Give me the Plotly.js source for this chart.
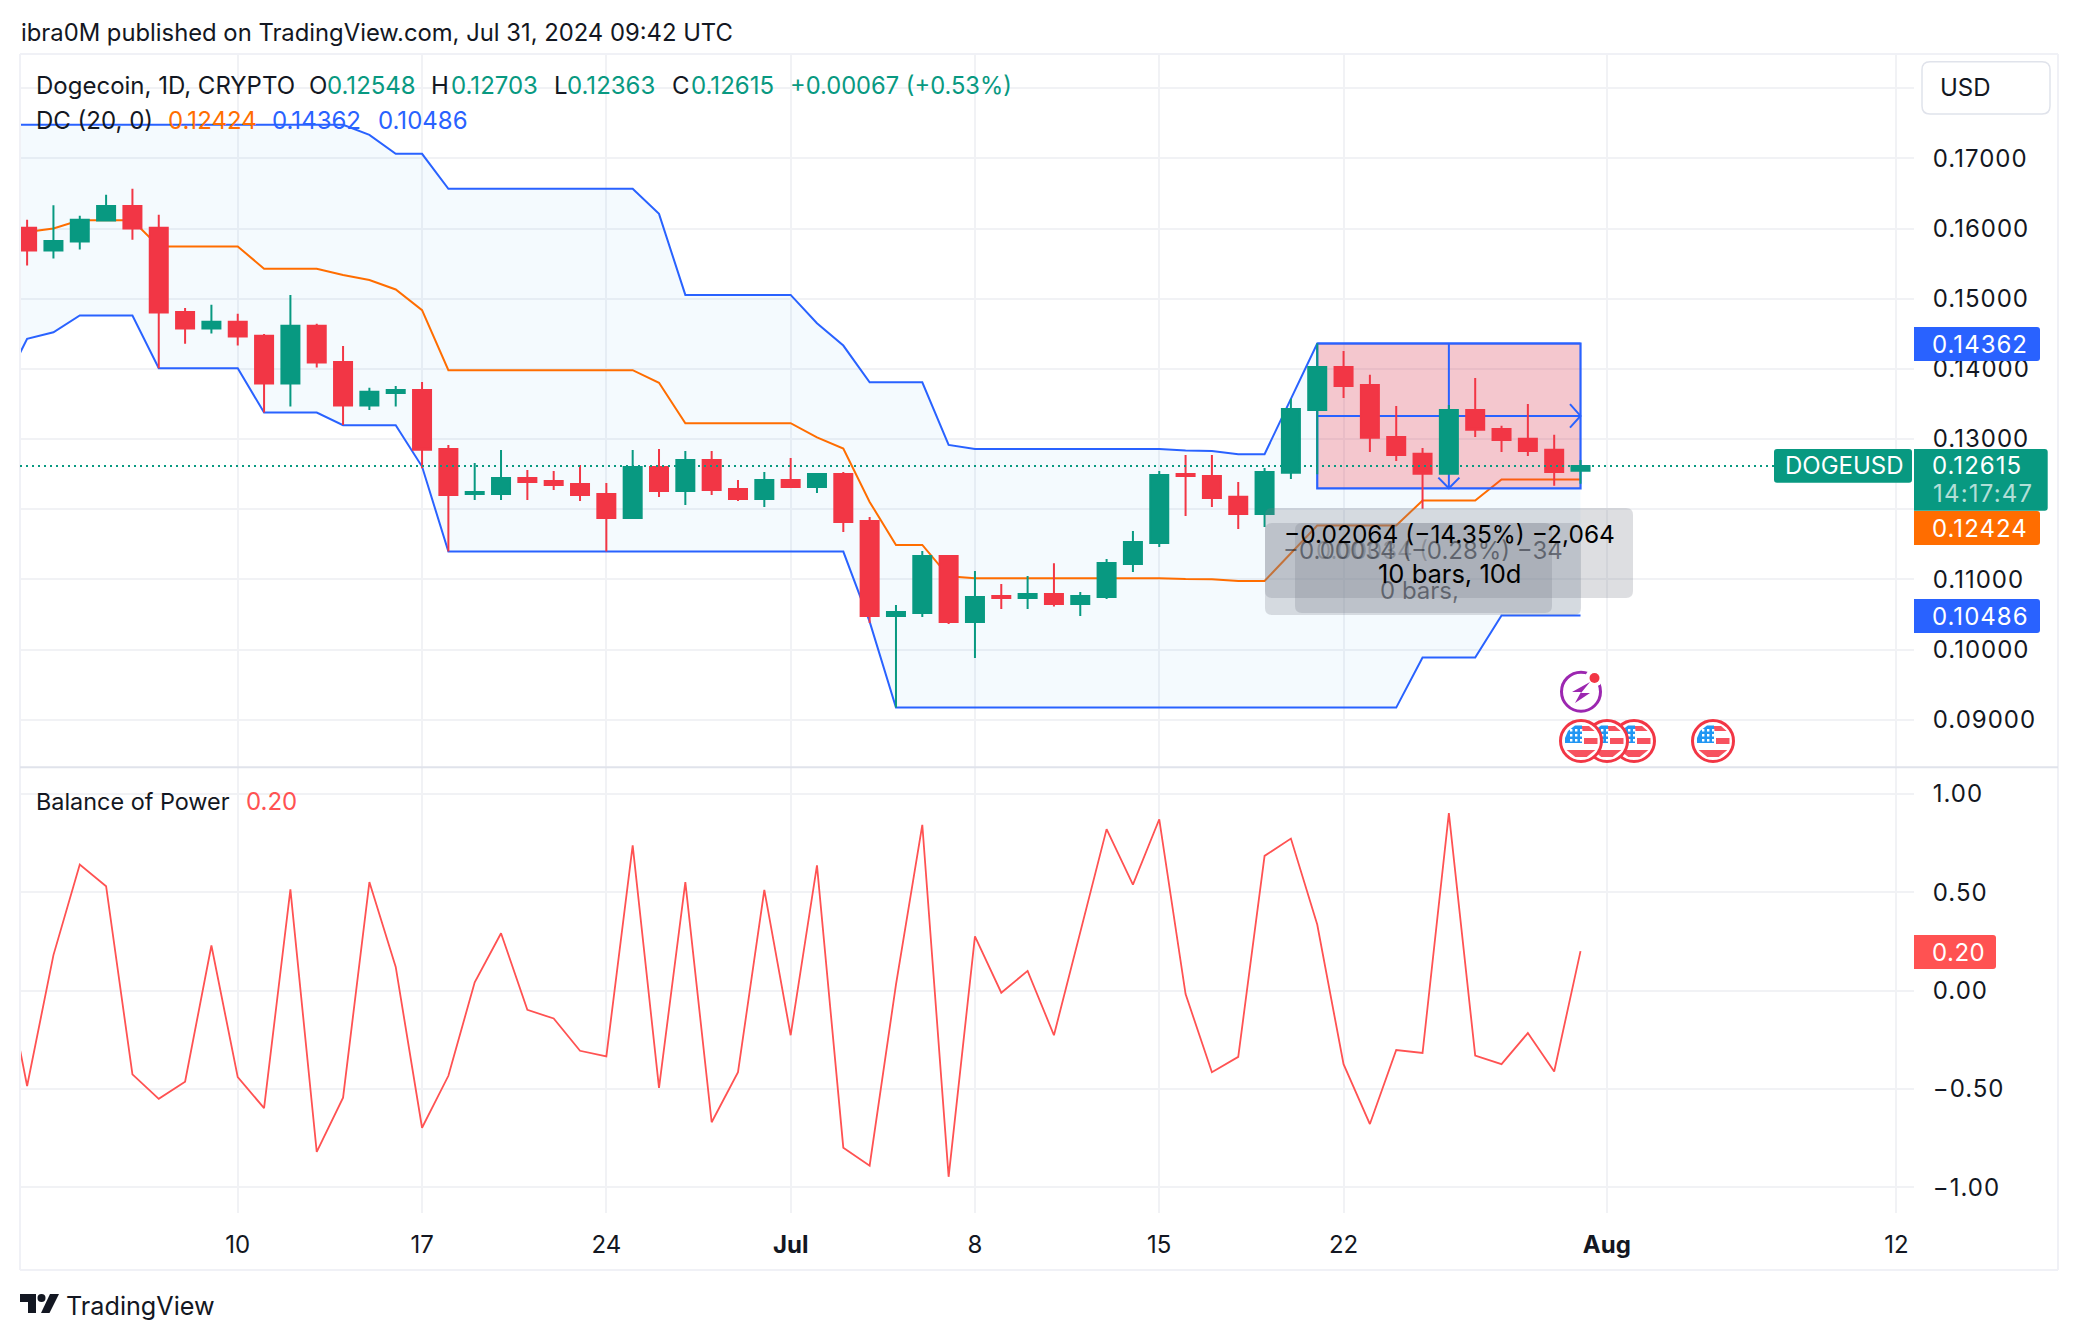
<!DOCTYPE html>
<html><head><meta charset="utf-8">
<script src="https://cdn.plot.ly/plotly-3.0.1.min.js"></script>
<style>html,body{margin:0;padding:0;background:#fff} svg text{font-variant-numeric:tabular-nums} .ytick text,.y2tick text{letter-spacing:1px}</style></head>
<body><div id="chart" style="width:2078px;height:1340px"></div>
<script>
const lineDates=['2024-06-01','2024-06-02','2024-06-03','2024-06-04','2024-06-05','2024-06-06','2024-06-07','2024-06-08','2024-06-09','2024-06-10','2024-06-11','2024-06-12','2024-06-13','2024-06-14','2024-06-15','2024-06-16','2024-06-17','2024-06-18','2024-06-19','2024-06-20','2024-06-21','2024-06-22','2024-06-23','2024-06-24','2024-06-25','2024-06-26','2024-06-27','2024-06-28','2024-06-29','2024-06-30','2024-07-01','2024-07-02','2024-07-03','2024-07-04','2024-07-05','2024-07-06','2024-07-07','2024-07-08','2024-07-09','2024-07-10','2024-07-11','2024-07-12','2024-07-13','2024-07-14','2024-07-15','2024-07-16','2024-07-17','2024-07-18','2024-07-19','2024-07-20','2024-07-21','2024-07-22','2024-07-23','2024-07-24','2024-07-25','2024-07-26','2024-07-27','2024-07-28','2024-07-29','2024-07-30','2024-07-31'];
const candleOpen=[.16011,.15687,.15816,.16115,.16324,.16011,.14813,.14576,.14671,.14471,.13791,.14614,.141,.13478,.13658,.13701,.12859,.12218,.12218,.12446,.12403,.1236,.12218,.11876,.12603,.12261,.12703,.12289,.12147,.12418,.12318,.12503,.11833,.10479,.10521,.11334,.10393,.10764,.10735,.10793,.1065,.1075,.1122,.1152,.12503,.12475,.12176,.11933,.12518,.13416,.14029,.13772,.13031,.12789,.12504,.13416,.13145,.13003,.12846,.12548];
const candleHigh=[.16125,.16334,.16182,.16481,.16567,.16196,.1487,.14913,.14785,.14499,.15055,.14642,.14328,.1373,.13758,.13815,.12916,.1266,.12845,.1256,.12546,.12631,.12375,.12845,.12859,.12831,.12831,.12418,.12532,.12731,.12517,.12532,.1189,.10636,.11405,.11348,.1112,.10935,.11049,.1123,.10821,.11292,.11691,.12546,.12774,.12774,.12389,.12589,.13573,.14362,.14257,.13915,.13473,.12874,.13487,.13872,.13188,.13501,.1306,.12703];
const candleLow=[.15474,.15573,.15702,.1611,.1584,.1401,.14357,.14504,.14333,.13378,.13464,.14019,.13202,.13416,.13464,.12584,.11396,.12132,.12132,.12132,.12275,.12118,.11396,.11876,.12175,.12061,.12204,.12118,.12033,.12303,.12232,.11676,.10379,.09172,.10464,.10365,.0988,.10578,.10578,.10612,.10479,.10721,.11106,.11463,.11905,.12033,.11719,.11748,.12432,.125,.13587,.12817,.12689,.12005,.12504,.13031,.12817,.1276,.12333,.12363];
const candleClose=[.15687,.15825,.16125,.16324,.16001,.14804,.14576,.14671,.14461,.13791,.14614,.14091,.13478,.13673,.13701,.12846,.12204,.12246,.12446,.12389,.12346,.12204,.11876,.12603,.12261,.12703,.12275,.12147,.12418,.12318,.12503,.11819,.10479,.10536,.11334,.10393,.1075,.10735,.10792,.1065,.10764,.11235,.11534,.12489,.12475,.12161,.11933,.12532,.1343,.14029,.13758,.13017,.12774,.12504,.13416,.13131,.12988,.12831,.12532,.12615];
const dcUpper=[.17479,.17479,.17479,.17479,.17479,.17479,.17479,.17479,.17479,.17479,.17479,.17479,.17479,.17479,.17336,.17066,.17066,.16567,.16567,.16567,.16567,.16567,.16567,.16567,.16567,.1621,.15055,.15055,.15055,.15055,.15055,.14652,.14333,.1381,.1381,.1381,.12916,.1286,.1286,.1286,.1286,.1286,.1286,.1286,.1286,.12836,.1283,.12784,.12784,.13573,.14362,.14362,.14362,.14362,.14362,.14362,.14362,.14362,.14362,.14362,.14362];
const dcLower=[.13686,.14428,.14523,.14761,.14761,.14761,.1401,.1401,.1401,.1401,.13378,.13378,.13378,.13197,.13197,.13197,.12608,.11396,.11396,.11396,.11396,.11396,.11396,.11396,.11396,.11396,.11396,.11396,.11396,.11396,.11396,.11396,.11396,.10398,.09172,.09172,.09172,.09172,.09172,.09172,.09172,.09172,.09172,.09172,.09172,.09172,.09172,.09172,.09172,.09172,.09172,.09172,.09172,.09172,.09885,.09885,.09885,.10486,.10486,.10486,.10486];
const dcBasis=[.15583,.15953,.16001,.1612,.1612,.1612,.15745,.15745,.15745,.15745,.15429,.15429,.15429,.15338,.15267,.15132,.14837,.13982,.13982,.13982,.13982,.13982,.13982,.13982,.13982,.13803,.13226,.13226,.13226,.13226,.13226,.13024,.12865,.12104,.11491,.11491,.11044,.11016,.11016,.11016,.11016,.11016,.11016,.11016,.11016,.11004,.11001,.10978,.10978,.11373,.11767,.11767,.11767,.11767,.12124,.12124,.12124,.12424,.12424,.12424,.12424];
const balanceOfPower=[.2,-.485,.18,.64,.53,-.426,-.55,-.463,.229,-.44,-.597,.514,-.82,-.544,.551,.12,-.697,-.433,.042,.291,-.098,-.142,-.306,-.334,.737,-.494,.551,-.669,-.415,.511,-.227,.636,-.798,-.89,.03,.842,-.946,.275,-.011,.1,-.227,.3,.82,.538,.87,-.018,-.415,-.337,.684,.772,.335,-.374,-.678,-.302,-.317,.901,-.33,-.374,-.216,-.411,.2];
const measureLeft='2024-07-21',measureMid='2024-07-26',measureRight='2024-07-31';
const measureTop=.14362,measureBottom=.12298,measureCentre=.1333;
const lastPrice=.12615;
const xTickVals=['2024-06-10','2024-06-17','2024-06-24','2024-07-01','2024-07-08','2024-07-15','2024-07-22','2024-08-01','2024-08-12'];
const xTickText=['10','17','24','<b>Jul</b>','8','15','22','<b>Aug</b>','12'];
const priceTickVals=[.09,.10,.11,.12,.13,.14,.15,.16,.17,.18];
const priceTickText=['0.09000','0.10000','0.11000','','0.13000','0.14000','0.15000','0.16000','0.17000',''];
const bopTickVals=[-1,-.5,0,.5,1];
const bopTickText=['−1.00','−0.50','0.00','0.50','1.00'];

const W=2078,H=1340,UP='#089981',DOWN='#F23645',BLUE='#2962FF',ORANGE='#FF6D00',BOPC='#FF5252',INK='#131722',GRID='#F1F2F5',FRAME='#F0F1F6';
const FONT='Inter, "Noto Sans", sans-serif';
const px=v=>v/W, py=v=>1-v/H;
const dom=[px(20),px(1914)];
const xRange=['2024-06-01 17:31','2024-08-12 15:59'];
const yRange=[.08321,.18489], bopRange=[-1.13,1.134];

const lineX=lineDates, cX=lineDates.slice(1);
const traces=[
 {type:'scatter',mode:'lines',x:lineX,y:dcUpper,line:{color:BLUE,width:2},xaxis:'x',yaxis:'y'},
 {type:'scatter',mode:'lines',x:lineX,y:dcLower,line:{color:BLUE,width:2},fill:'tonexty',fillcolor:'rgba(33,150,243,0.05)',xaxis:'x',yaxis:'y'},
 {type:'scatter',mode:'lines',x:lineX,y:dcBasis,line:{color:ORANGE,width:2},xaxis:'x',yaxis:'y'},
 {type:'scatter',mode:'lines',x:[measureLeft,measureRight,measureRight,measureLeft,measureLeft],y:[measureTop,measureTop,measureBottom,measureBottom,measureTop],fill:'toself',fillcolor:'rgba(242,54,69,0.26)',line:{color:BLUE,width:2.2},xaxis:'x',yaxis:'y'},
 {type:'scatter',mode:'lines',x:[measureLeft,measureRight],y:[measureCentre,measureCentre],line:{color:BLUE,width:2},xaxis:'x',yaxis:'y'},
 {type:'scatter',mode:'lines',x:['2024-07-30 14:24',measureRight,'2024-07-30 14:24'],y:[.13497,measureCentre,.13163],line:{color:BLUE,width:2},xaxis:'x',yaxis:'y'},
 {type:'scatter',mode:'lines',x:[measureMid,measureMid],y:[measureTop,measureBottom],line:{color:BLUE,width:2},xaxis:'x',yaxis:'y'},
 {type:'scatter',mode:'lines',x:['2024-07-25 14:24',measureMid,'2024-07-26 09:36'],y:[.1245,measureBottom,.1245],line:{color:BLUE,width:2},xaxis:'x',yaxis:'y'},
 {type:'candlestick',x:cX,open:candleOpen,high:candleHigh,low:candleLow,close:candleClose,whiskerwidth:0,
  increasing:{line:{color:UP,width:2},fillcolor:UP},decreasing:{line:{color:DOWN,width:2},fillcolor:DOWN},xaxis:'x3',yaxis:'y3'},
 {type:'scatter',mode:'lines',x:lineX,y:balanceOfPower,line:{color:BOPC,width:1.8},xaxis:'x2',yaxis:'y2'}
];

const anns=[];
function T(text,x,y,size,color,anchor){anns.push({text,x:px(x),y:py(y),xref:'paper',yref:'paper',xanchor:anchor||'left',yanchor:'middle',showarrow:false,borderpad:0,font:{family:FONT,size,color}});}
const wide=(s,v)=>'<span style="letter-spacing:'+v+'px">'+s+'</span>';
const shapes=[];
function P(d,fill,line,lw){shapes.push({type:'path',xref:'paper',yref:'paper',path:d,fillcolor:fill,line:{color:line||'rgba(0,0,0,0)',width:lw||0},layer:'above'});}
function poly(pts){return 'M'+pts.map(p=>px(p[0])+','+py(p[1])).join('L')+'Z';}
function round(x0,y0,x1,y1,r,rl){
 const Q=(a,b,c,d)=>'Q'+px(a)+','+py(b)+' '+px(c)+','+py(d);
 const L=(a,b)=>'L'+px(a)+','+py(b);
 return 'M'+px(x0+rl)+','+py(y0)+L(x1-r,y0)+Q(x1,y0,x1,y0+r)+L(x1,y1-r)+Q(x1,y1,x1-r,y1)+L(x0+rl,y1)+Q(x0,y1,x0,y1-rl)+L(x0,y0+rl)+Q(x0,y0,x0+rl,y0)+'Z';
}
function circ(cx,cy,r,fill,line,lw){shapes.push({type:'circle',xref:'paper',yref:'paper',x0:px(cx-r),x1:px(cx+r),y0:py(cy+r),y1:py(cy-r),fillcolor:fill,line:{color:line||'rgba(0,0,0,0)',width:lw||0},layer:'above'});}
function seg(x0,y0,x1,y1,c,w){shapes.push({type:'line',xref:'paper',yref:'paper',x0:px(x0),x1:px(x1),y0:py(y0),y1:py(y1),line:{color:c,width:w},layer:'above'});}

seg(20,54,2058,54,FRAME,2);seg(20,54,20,1270,FRAME,2);seg(2058,54,2058,1270,FRAME,2);seg(20,1270,2058,1270,FRAME,2);
seg(20,767.3,2058,767.3,'#E0E3EB',2);

shapes.push({type:'line',xref:'paper',yref:'y',x0:px(20),x1:px(1774),y0:lastPrice,y1:lastPrice,line:{color:UP,width:2,dash:'2px,4px'},layer:'above'});

const TIP='rgba(120,123,134,0.25)';
P(round(1295,523,1552,613,7,7),TIP);
P(round(1265,523,1581,615,7,7),TIP);
P(round(1265,508,1633,598,7,7),TIP);

P(round(1914,327,2040,361,3,0),BLUE);
P(round(1774,449,1912,482.7,3,3),UP);
P(round(1914,449,2047.7,510.7,3,0),UP);
P(round(1914,511,2040,545,3,0),ORANGE);
P(round(1914,599,2040,633,3,0),BLUE);
P(round(1914,935,1996,969,3,0),BOPC);
P(round(1922,61.7,2050,114,8,8),'#FFFFFF','#E0E3EB',1.5);

function flag(cx,cy){
 circ(cx,cy,20.5,'#FFFFFF',DOWN,3);
 const R='#F7525F';
 P(poly([[cx+1,cy-15],[cx+8,cy-15],[cx+13.7,cy-10],[cx+1,cy-10]]),R);
 P(poly([[cx+3,cy-3],[cx+16.5,cy-3],[cx+16.5,cy+3],[cx+3,cy+3]]),R);
 P(poly([[cx-14.4,cy+9],[cx+14.4,cy+9],[cx+5.7,cy+16],[cx-5.7,cy+16]]),R);
 P(poly([[cx+1,cy-15.5],[cx-6,cy-15.5],[cx-13,cy-10],[cx-16,cy-3],[cx-16,cy+2],[cx+1,cy+2]]),'#2196F3');
 let d='';
 [-11,-6,-1].forEach(dy=>{[-10,-5,0].forEach(dx=>{const a=cx+dx-1,b=cy+dy-1;d+=poly([[a,b],[a+2.4,b],[a+2.4,b+2.4],[a,b+2.4]]);});});
 P(d,'#FFFFFF');
}
[1713,1634,1607,1581].forEach(c=>flag(c,741));
circ(1581,691.7,19.5,'rgba(0,0,0,0)','#9C27B0',3);
circ(1594,678,9,'#FFFFFF');
circ(1594.5,678,5,DOWN);
P(poly([[1590,682],[1572,692],[1581,692],[1575,703],[1590,693],[1581,693]]),'#9C27B0');

P(poly([[20,1294],[36,1294],[36,1313],[28,1313],[28,1302],[20,1302]]),INK);
circ(41.5,1298,4,INK);
P(poly([[50,1294],[59,1294],[49.5,1313],[41,1313]]),INK);

const LS=24;
T('ibra0M published on TradingView.com, Jul 31, 2024 09:42 UTC',19.5,32,23.8,INK);
T('Dogecoin, 1D, CRYPTO',34.5,86,LS,INK);
T('O',308,86,LS,INK);T('0.12548',326,86,LS,UP);
T('H',430,86,LS,INK);T('0.12703',450,86,LS,UP);
T('L',553,86,LS,INK);T('0.12363',566,86,LS,UP);
T('C',671,86,LS,INK);T('0.12615',690,86,LS,UP);
T('+0.00067 (+0.53%)',789,86,23.7,UP);
T('DC (20, 0)',34.5,120,LS,INK);
T('0.12424',167,120,LS,ORANGE);T('0.14362',271,120,LS,BLUE);T('0.10486',377,120,LS,BLUE);
T('Balance of Power',34.5,801,23.4,INK);T('0.20',245,801,LS,BOPC);
T('USD',1939,87.7,LS,INK);
T(wide('0.14362',1),1931,344,LS,'#FFFFFF');
T('DOGEUSD',1784,465.7,LS,'#FFFFFF');
T(wide('0.12615',1),1931,465.7,LS,'#FFFFFF');
T(wide('14:17:47',1.2),1932,493,LS,'rgba(255,255,255,0.7)');
T(wide('0.12424',1),1931,528,LS,'#FFFFFF');
T(wide('0.10486',1),1931,616,LS,'#FFFFFF');
T(wide('0.20',0.5),1931,952,LS,'#FFFFFF');
T('0.00034 (',1315,550,LS,'rgba(19,23,34,0.22)');
T('−0.00034 (−0.28%) −34',1422.6,550.7,LS,'rgba(19,23,34,0.5)','center');
T('0 bars,',1419,590.7,LS,'rgba(19,23,34,0.5)','center');
T('−0.02064 (−14.35%) −2,064',1449,534,24.5,'#000000','center');
T('10 bars, 10d',1449,574,25.5,'#000000','center');
T('TradingView',65,1306,25.2,INK);

const gridX={showgrid:true,gridcolor:GRID,gridwidth:2,zeroline:false,showline:false,type:'date',range:xRange,domain:dom,tickmode:'array',tickvals:xTickVals,ticktext:xTickText};
const gridY={showgrid:true,gridcolor:GRID,gridwidth:2,zeroline:false,showline:false,side:'right',tickmode:'array',ticks:'outside',ticklen:13,tickcolor:'rgba(0,0,0,0)',tickfont:{family:FONT,size:LS,color:INK}};
const layout={
 width:W,height:H,margin:{l:0,r:0,t:0,b:0},paper_bgcolor:'#FFFFFF',plot_bgcolor:'#FFFFFF',showlegend:false,
 font:{family:FONT,color:INK},boxgap:0.1,boxgroupgap:0.24,
 xaxis:Object.assign({},gridX,{anchor:'y',showticklabels:false,ticks:''}),
 yaxis:Object.assign({},gridY,{anchor:'x',range:yRange,domain:[py(767.3),py(54)],tickvals:priceTickVals,ticktext:priceTickText}),
 xaxis2:Object.assign({},gridX,{anchor:'y2',ticks:'outside',ticklen:10,tickcolor:'rgba(0,0,0,0)',tickfont:{family:FONT,size:LS,color:INK}}),
 yaxis2:Object.assign({},gridY,{anchor:'x2',range:bopRange,domain:[py(1213),py(767.3)],tickvals:bopTickVals,ticktext:bopTickText}),
 xaxis3:{overlaying:'x',type:'date',range:xRange,domain:dom,visible:false,anchor:'y3',rangeslider:{visible:false}},
 yaxis3:{overlaying:'y',range:yRange,domain:[py(767.3),py(54)],visible:false,anchor:'x3',side:'right'},
 shapes,annotations:anns
};
Plotly.newPlot('chart',traces,layout,{staticPlot:true,displayModeBar:false,responsive:false});
</script></body></html>
